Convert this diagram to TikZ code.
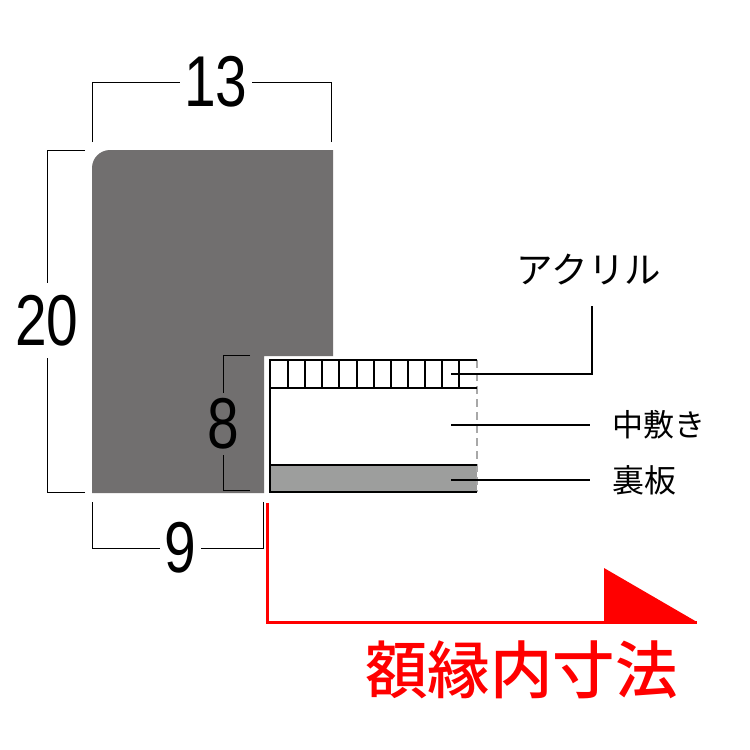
\documentclass[tikz,border=0pt]{standalone}
\usepackage{fontspec}
\setmainfont{Liberation Sans}
\newfontfamily\cjk{Noto Sans CJK JP}
\newfontfamily\cjkmed{Noto Sans CJK JP Medium}
\definecolor{framegray}{HTML}{716F6F}
\definecolor{boardgray}{HTML}{9D9E9D}
\definecolor{dashgray}{HTML}{A8A8A8}
\definecolor{markred}{HTML}{FF0000}
\def\framepath{(92,168) arc (180:270:18) -- (333,150) -- (333,356) -- (264,356) -- (264,493) -- (92,493) -- cycle}
\def\boardpath{(270,465) rectangle (477,492)}
\newcommand{\dimnum}[1]{\smash{\raisebox{-.345em}{\scalebox{.79}[1]{#1}}}}
\tikzset{
  dimline/.style={draw=black, line width=1pt},
  leader/.style={draw=black, line width=1.8pt},
  sheet/.style={draw=black, line width=1.8pt},
  dimlabel/.style={inner sep=0pt, text=black, font=\fontsize{72}{72}\selectfont},
  partlabel/.style={inner ysep=0pt, anchor=west, inner xsep=22pt},
}
\begin{document}
\begin{tikzpicture}[x=1pt,y=-1pt]
  \useasboundingbox (0,0) rectangle (750,750);
  \fill[white] (0,0) rectangle (750,750);
  \fill[framegray] \framepath;
  \fill[boardgray] \boardpath;
  % sheets
  \draw[dashgray, line width=1.8pt, dash pattern=on 8pt off 5pt] (477,360) -- (477,492);
  \draw[sheet] (477,360) -- (270,360) -- (270,492) -- (477,492);
  \draw[sheet] (270,388) -- (477,388);
  \draw[sheet] (270,465) -- (477,465);
  \foreach \x in {288,305,322,339,357,374,391,408,425,442,459}
    \draw[black, line width=1.4pt] (\x,360) -- (\x,388);
  % labels
  \node[dimlabel, inner xsep=4pt] (numTop) at (216,82) {\dimnum{13}};
  \node[dimlabel, inner ysep=37.5pt] (numLeft) at (47,320.5) {\dimnum{20}};
  \node[dimlabel, inner ysep=31pt] (numRabbet) at (223.5,424) {\dimnum{8}};
  \node[dimlabel, inner xsep=4pt] (numLip) at (180.5,548) {\dimnum{9}};
  \node[inner sep=0pt] (lblAcryl) at (589,270) {\cjk\fontsize{36.5}{36.5}\selectfont アクリル};
  \node[partlabel] (lblMat) at (590,425) {\cjk\fontsize{31}{31}\selectfont 中敷き};
  \node[partlabel] (lblBack) at (590,480) {\cjk\fontsize{32}{32}\selectfont 裏板};
  \node[text=markred, inner sep=0pt] (lblInner) at (521.5,670) {\cjkmed\fontsize{62.5}{62.5}\selectfont 額縁内寸法};
  % dimension brackets
  \coordinate (topA) at (92,142);
  \coordinate (topB) at (331,142);
  \draw[dimline] (topA) |- (numTop.west);
  \draw[dimline] (topB) |- (numTop.east);
  \coordinate (leftA) at (85,150);
  \coordinate (leftB) at (85,492);
  \draw[dimline] (leftA) -| (numLeft.north);
  \draw[dimline] (leftB) -| (numLeft.south);
  \coordinate (rabA) at (250,355);
  \coordinate (rabB) at (250,490.5);
  \draw[dimline] (rabA) -| (numRabbet.north);
  \draw[dimline] (rabB) -| (numRabbet.south);
  \coordinate (lipA) at (92,502);
  \coordinate (lipB) at (263,502);
  \draw[dimline] (lipA) |- (numLip.west);
  \draw[dimline] (lipB) |- (numLip.east);
  % leaders
  \coordinate (acrylEnd) at (451,374);
  \coordinate (acrylTop) at (592,306);
  \coordinate (matEnd) at (451,425);
  \coordinate (backEnd) at (451,480);
  \draw[leader] (acrylEnd) -| (acrylTop);
  \draw[leader, line width=1.2pt] (matEnd) -- (lblMat.west);
  \draw[leader] (backEnd) -- (lblBack.west);
  % inner size mark
  \coordinate (markStart) at (267,503);
  \coordinate (markTip) at (697,622);
  \coordinate (markWedge) at (604,568);
  \draw[markred, line width=3pt] (markStart) |- (markTip);
  \fill[markred] (markWedge) -- (markWedge |- markTip) -- (markTip) -- cycle;
\end{tikzpicture}
\end{document}
